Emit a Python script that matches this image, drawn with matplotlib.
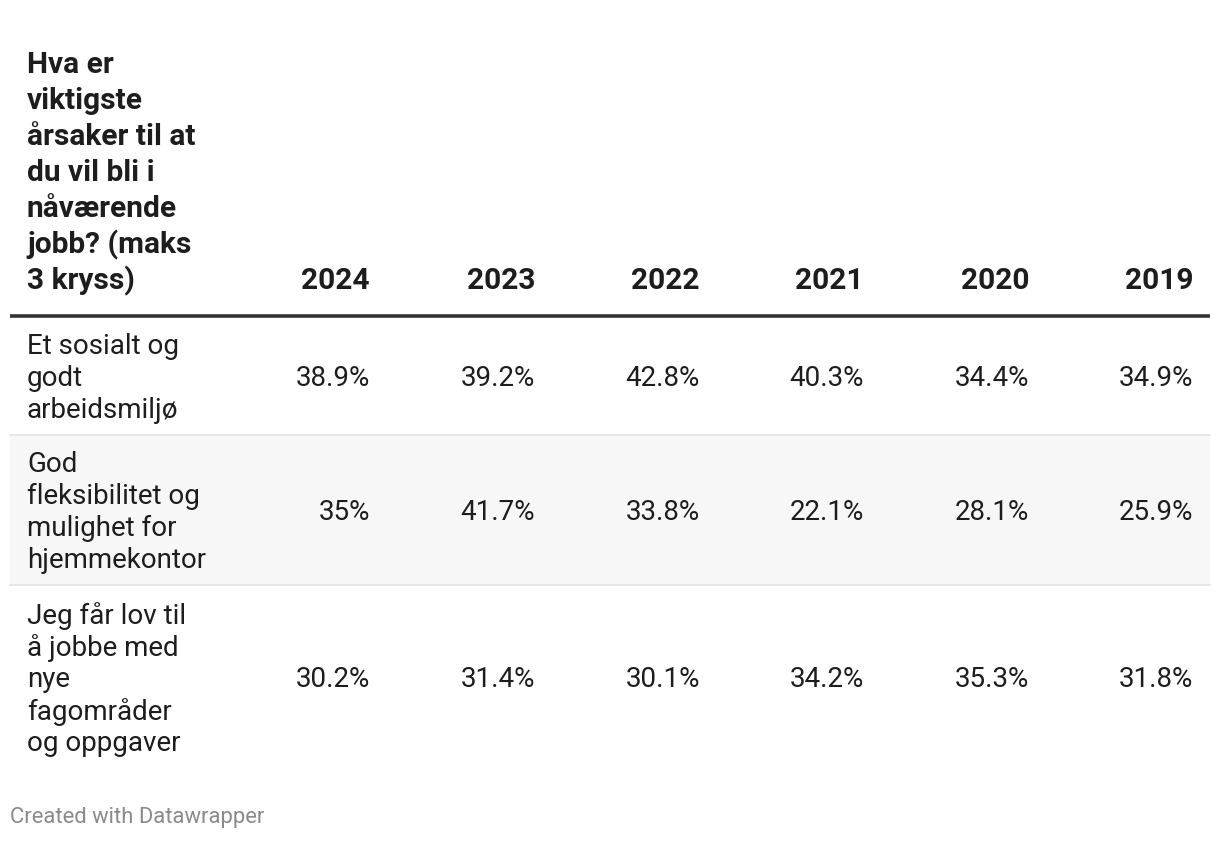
import matplotlib
matplotlib.use("Agg")
import matplotlib.pyplot as plt
from matplotlib.patches import Rectangle

plt.rcParams['font.family'] = ['Roboto', 'DejaVu Sans']

title = "Hva er\nviktigste\nårsaker til at\ndu vil bli i\nnåværende\njobb? (maks\n3 kryss)"
years = ["2024", "2023", "2022", "2021", "2020", "2019"]
categories = [
    "Et sosialt og\ngodt\narbeidsmiljø",
    "God\nfleksibilitet og\nmulighet for\nhjemmekontor",
    "Jeg får lov til\nå jobbe med\nnye\nfagområder\nog oppgaver",
]
values = [
    [38.9, 39.2, 42.8, 40.3, 34.4, 34.9],
    [35.0, 41.7, 33.8, 22.1, 28.1, 25.9],
    [30.2, 31.4, 30.1, 34.2, 35.3, 31.8],
]
footer = "Created with Datawrapper"

W, H = 1220, 842
fig = plt.figure(figsize=(W / 100, H / 100), dpi=100)
ax = fig.add_axes([0, 0, 1, 1])
ax.set_xlim(0, W)
ax.set_ylim(H, 0)
ax.axis('off')

TXT = '#1d1d1d'
col_right = [370, 535, 700, 864, 1029, 1193]
left = 27

# header
hdr_size = 21.5
hdr_lines = title.split('\n')
hdr_step = 36
hdr_last = 281
for i, line in enumerate(hdr_lines):
    y = hdr_last - (len(hdr_lines) - 1 - i) * hdr_step
    ax.text(left, y, line, fontsize=hdr_size, fontweight='bold', color=TXT,
            ha='left', va='center')
for x, yr in zip(col_right, years):
    ax.text(x, hdr_last, yr, fontsize=hdr_size, fontweight='bold', color=TXT,
            ha='right', va='center')

# thick header rule
ax.plot([10, 1210], [316, 316], color='#333333', lw=2.6, solid_capstyle='butt')

# rows
row_bounds = [(318, 435), (435, 585), (585, 770)]
body_size = 20
body_step = 32


def fmt(v):
    s = f"{v:.1f}"
    if s.endswith('.0'):
        s = s[:-2]
    return s + '%'


for r, (cat, vals, (y0, y1)) in enumerate(zip(categories, values, row_bounds)):
    if r % 2 == 1:
        ax.add_patch(Rectangle((10, y0), 1200, y1 - y0, facecolor='#f7f7f7',
                               edgecolor='none', zorder=0))
    if r < len(categories) - 1:
        ax.plot([10, 1210], [y1, y1], color='#e3e3e3', lw=1.2, zorder=1)
    yc = (y0 + y1) / 2 + 2
    lines = cat.split('\n')
    n = len(lines)
    for i, line in enumerate(lines):
        y = yc + (i - (n - 1) / 2) * body_step
        ax.text(left, y, line, fontsize=body_size, color=TXT, ha='left', va='center')
    for x, v in zip(col_right, vals):
        ax.text(x, yc, fmt(v), fontsize=body_size, color=TXT, ha='right', va='center')

ax.text(10, 818, footer, fontsize=15.8, color='#8a8a8a', ha='left', va='center')

fig.savefig('out.png', dpi=100, facecolor='white')
